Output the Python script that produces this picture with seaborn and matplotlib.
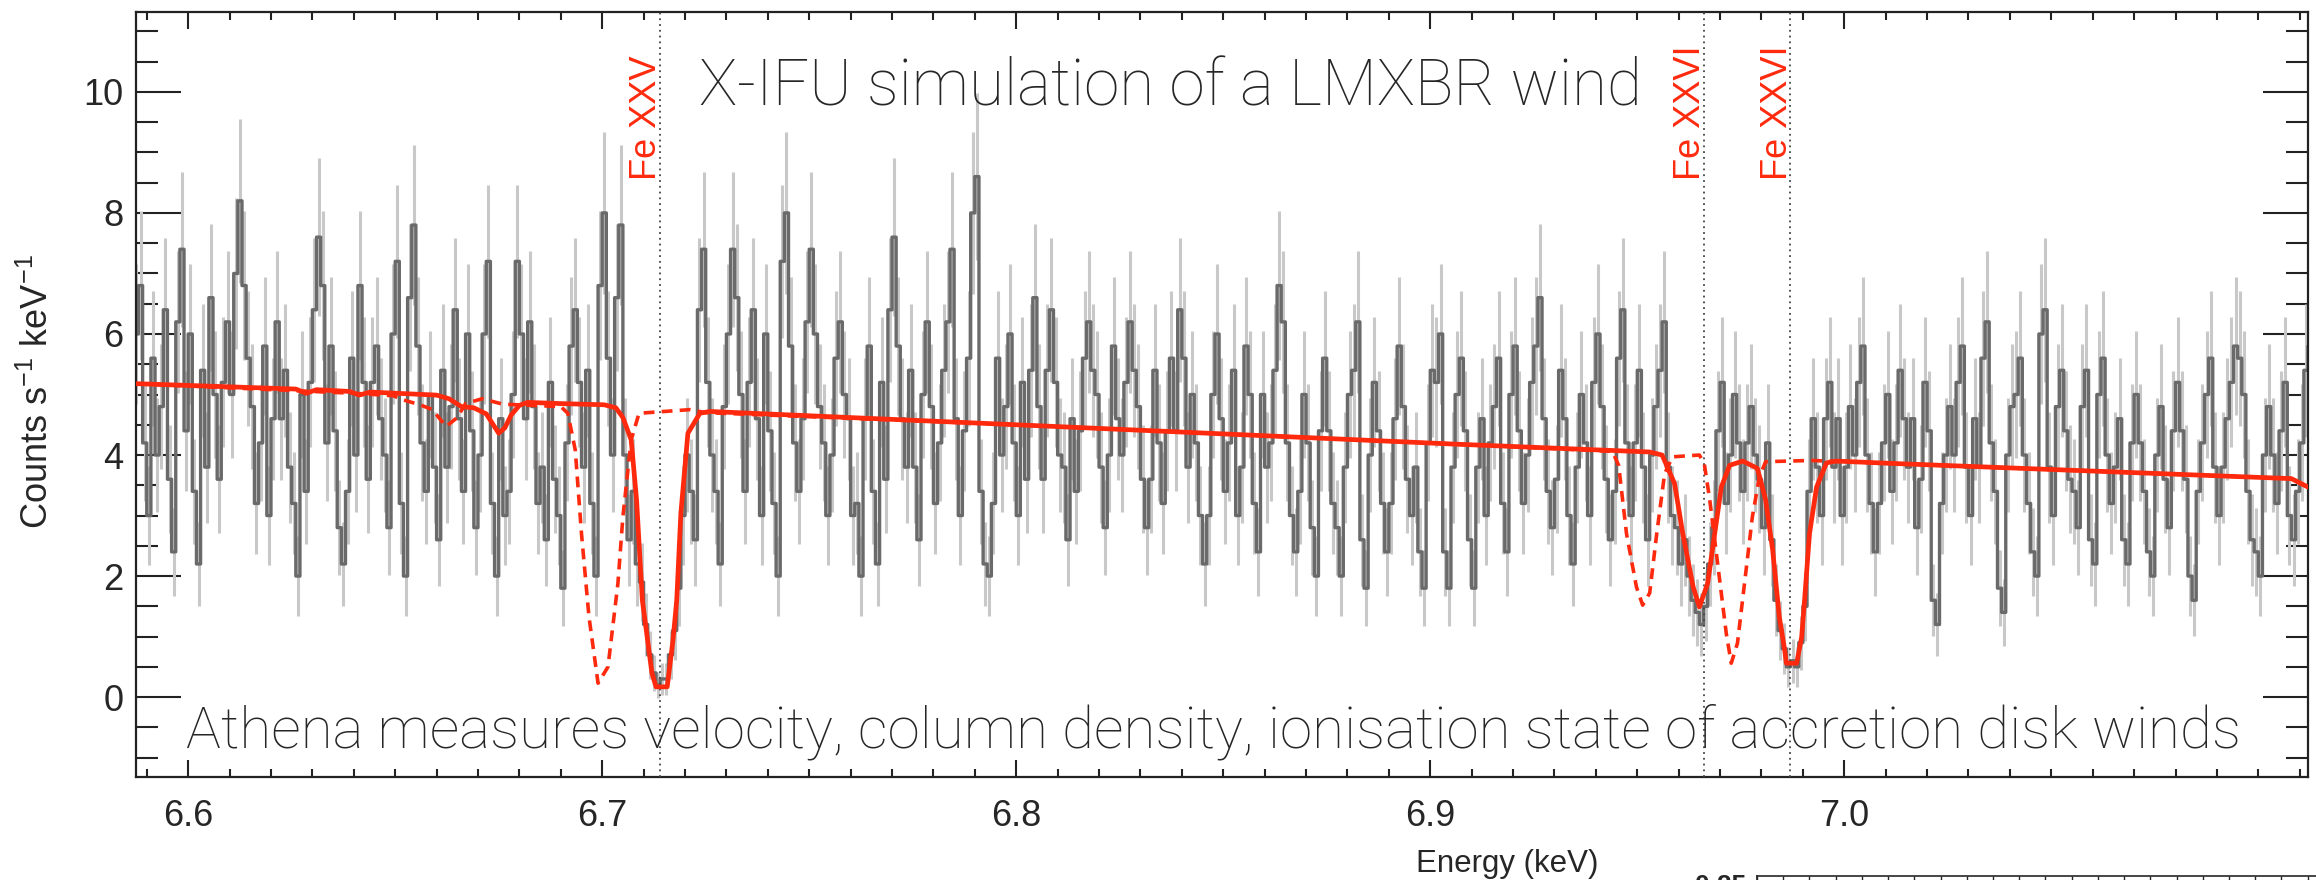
import numpy as np
import matplotlib
matplotlib.use("Agg")
import matplotlib.pyplot as plt
import seaborn as sns
from matplotlib.ticker import MultipleLocator

# ---------------- data ----------------
bin_start = 6.5875         # centre of first 1 eV bin (keV)
bin_width = 0.001          # keV
counts = [
    6.0, 6.8, 4.2, 3.0, 5.6, 4.0, 4.8, 6.4, 3.6, 2.4, 6.2, 7.4, 4.4, 6.0, 3.4, 2.2, 5.4, 3.8, 6.6, 5.0,
    3.6, 5.2, 6.2, 5.0, 7.0, 8.2, 6.8, 5.6, 4.8, 3.2, 4.2, 5.8, 3.0, 4.6, 6.2, 4.6, 5.4, 3.8, 3.2, 2.0,
    5.0, 3.4, 5.2, 6.4, 7.6, 6.8, 4.2, 5.8, 4.4, 2.8, 2.2, 3.4, 5.6, 4.0, 6.8, 5.2, 3.6, 5.2, 5.8, 4.6,
    4.0, 2.8, 6.0, 7.2, 3.2, 2.0, 6.6, 7.8, 5.8, 4.2, 3.4, 5.0, 3.8, 2.6, 5.4, 3.8, 4.8, 6.4, 4.6, 3.4,
    6.0, 4.4, 2.8, 4.0, 6.0, 7.2, 3.2, 2.0, 4.6, 3.0, 3.4, 5.0, 7.2, 6.0, 4.6, 6.2, 4.8, 3.2, 3.8, 2.6,
    5.2, 3.6, 3.0, 1.8, 4.2, 5.8, 6.4, 5.2, 3.8, 5.4, 3.2, 2.0, 6.8, 8.0, 5.6, 4.0, 6.6, 7.8, 4.0, 2.6,
    3.4, 2.2, 1.9, 1.2, 0.7, 0.4, 0.2, 0.3, 0.3, 0.7, 1.1, 1.8, 3.0, 4.0, 3.4, 2.6, 6.4, 7.4, 5.2, 4.0,
    3.4, 2.2, 4.8, 6.0, 7.4, 6.6, 5.0, 3.4, 5.2, 6.4, 4.6, 3.0, 6.0, 4.4, 3.2, 2.0, 7.2, 8.0, 5.8, 4.2,
    3.4, 4.6, 6.2, 7.4, 6.0, 4.8, 4.2, 3.0, 4.0, 5.6, 6.2, 5.0, 4.6, 3.0, 3.2, 2.0, 4.6, 5.8, 3.4, 2.2,
    5.2, 3.6, 6.4, 7.6, 5.8, 4.6, 3.8, 5.4, 3.8, 2.6, 5.0, 6.2, 4.8, 3.2, 4.2, 5.4, 6.2, 7.4, 4.6, 3.0,
    4.4, 5.6, 8.0, 8.6, 3.4, 2.2, 2.0, 3.2, 5.6, 4.0, 4.8, 6.0, 4.2, 3.0, 5.2, 3.6, 5.4, 6.6, 4.8, 3.6,
    5.4, 6.4, 5.2, 4.0, 3.8, 2.6, 4.6, 3.4, 4.4, 5.6, 6.2, 5.4, 5.0, 3.8, 2.8, 4.0, 5.8, 4.6, 4.0, 5.2,
    6.2, 5.4, 4.8, 3.6, 2.8, 3.6, 5.4, 4.2, 3.2, 4.4, 5.6, 4.4, 6.4, 5.6, 3.8, 5.0, 4.2, 3.0, 2.2, 3.0,
    5.0, 6.0, 4.6, 3.4, 4.2, 5.4, 3.0, 3.8, 5.8, 5.0, 3.2, 2.4, 5.0, 3.8, 4.2, 5.4, 6.8, 6.2, 4.2, 3.0,
    2.4, 3.4, 5.0, 4.2, 2.8, 2.0, 4.4, 5.6, 4.4, 3.2, 2.8, 2.0, 3.8, 5.0, 5.4, 6.2, 2.6, 1.8, 4.0, 5.2,
    4.4, 3.2, 2.4, 3.2, 4.6, 5.8, 4.8, 3.6, 3.0, 3.8, 2.4, 1.8, 4.2, 5.4, 5.2, 6.0, 2.4, 1.8, 3.8, 5.0,
    5.6, 4.4, 2.6, 1.8, 3.8, 4.6, 3.0, 4.2, 4.8, 5.6, 3.2, 2.4, 5.0, 5.8, 4.4, 3.2, 4.0, 5.2, 5.8, 6.6,
    4.6, 3.4, 2.8, 3.6, 5.4, 4.6, 3.0, 2.2, 3.8, 5.0, 4.2, 3.0, 5.2, 6.0, 4.8, 3.6, 2.6, 3.4, 5.6, 6.4,
    4.2, 3.0, 4.2, 5.4, 3.8, 2.6, 4.0, 4.8, 5.4, 6.2, 3.8, 3.0, 2.8, 2.2, 2.6, 2.0, 1.6, 1.4, 1.2, 1.5,
    2.2, 2.8, 4.4, 5.2, 3.2, 4.0, 5.0, 4.2, 3.4, 4.2, 4.8, 4.0, 3.6, 2.8, 4.2, 2.6, 1.6, 1.1, 0.8, 0.5,
    0.6, 0.5, 0.9, 1.5, 3.4, 4.6, 3.8, 3.0, 4.6, 5.2, 3.8, 4.6, 3.0, 3.8, 4.8, 4.0, 5.2, 5.8, 4.0, 3.2,
    2.4, 3.2, 4.2, 5.0, 3.4, 4.2, 5.4, 4.6, 3.8, 4.6, 2.8, 3.6, 5.2, 4.4, 1.6, 1.2, 3.2, 4.0, 4.8, 4.0,
    5.2, 5.8, 3.8, 3.0, 4.6, 3.8, 5.6, 6.2, 4.2, 3.4, 1.8, 1.4, 4.0, 4.8, 5.0, 5.6, 4.0, 3.2, 2.4, 2.0,
    6.0, 6.4, 3.8, 3.0, 4.8, 5.4, 4.4, 3.6, 3.4, 2.8, 4.8, 5.4, 2.6, 2.2, 5.0, 5.6, 4.0, 3.2, 3.8, 4.6,
    2.6, 2.2, 4.2, 5.0, 4.2, 3.4, 2.4, 2.0, 4.0, 4.8, 3.6, 2.8, 4.4, 5.2, 4.4, 3.6, 2.0, 1.6, 3.4, 4.2,
    5.0, 5.6, 3.8, 3.0, 3.8, 4.6, 5.2, 5.8, 5.6, 5.0, 3.4, 2.6, 2.4, 2.0, 4.0, 4.8, 4.0, 3.2, 4.4, 5.2,
    3.0, 2.6, 3.4, 4.2, 5.4, 5.8,
]
counts_per_unit = 4.5     # Poisson normalisation for the error bars

# best-fit model (blueshifted lines)
model_E = [6.5870, 6.6260, 6.6285, 6.6310, 6.6390, 6.6413, 6.6440, 6.6600, 6.6630,
           6.6660, 6.6690, 6.6720, 6.6735, 6.6750, 6.6765, 6.6780, 6.6800, 6.6820,
           6.6900, 6.7005, 6.7033, 6.7050, 6.7070, 6.7083, 6.7097, 6.7120, 6.7130,
           6.7157, 6.7171, 6.7180, 6.7190, 6.7207, 6.7236, 6.7260, 6.8000, 6.9060,
           6.9530, 6.9560, 6.9590, 6.9610, 6.9635, 6.9650, 6.9670, 6.9687, 6.9703,
           6.9723, 6.9755, 6.9790, 6.9810, 6.9827, 6.9843, 6.9856, 6.9860, 6.9885,
           6.9897, 6.9904, 6.9916, 6.9933, 6.9957, 6.9980, 7.0120, 7.1080, 7.1120]
model_y = [5.18, 5.09, 5.02, 5.08, 5.05, 4.99, 5.04, 4.99, 4.93,
           4.80, 4.78, 4.68, 4.52, 4.36, 4.45, 4.66, 4.82, 4.87,
           4.85, 4.83, 4.78, 4.62, 4.25, 3.26, 1.60, 0.40, 0.17,
           0.17, 0.94, 1.60, 3.04, 4.36, 4.69, 4.72, 4.50, 4.18,
           4.05, 4.00, 3.53, 2.70, 1.82, 1.49, 1.88, 2.70, 3.47,
           3.83, 3.90, 3.78, 3.26, 2.43, 1.33, 0.78, 0.56, 0.56,
           0.99, 1.60, 2.70, 3.47, 3.87, 3.90, 3.86, 3.61, 3.47]

# same model with lines at rest energies (dashed)
rest_E = [6.5870, 6.6400, 6.6495, 6.6520, 6.6560, 6.6590, 6.6623, 6.6650, 6.6670,
          6.6710, 6.6760, 6.6900, 6.6917, 6.6935, 6.6950, 6.6968, 6.6990, 6.7014,
          6.7038, 6.7050, 6.7070, 6.7089, 6.7212, 6.7250, 6.8000, 6.9060, 6.9440,
          6.9455, 6.9474, 6.9498, 6.9513, 6.9530, 6.9547, 6.9566, 6.9585, 6.9650,
          6.9662, 6.9675, 6.9700, 6.9715, 6.9727, 6.9742, 6.9758, 6.9778, 6.9795,
          6.9810, 6.9920, 7.0000, 7.1080, 7.1120]
rest_y = [5.18, 5.02, 4.98, 4.91, 4.83, 4.75, 4.47, 4.62, 4.85,
          4.93, 4.84, 4.80, 4.69, 4.08, 2.70, 1.33, 0.23, 0.50,
          1.88, 2.98, 4.25, 4.69, 4.75, 4.70, 4.50, 4.18, 4.06,
          3.83, 2.70, 1.82, 1.52, 1.72, 2.70, 3.69, 3.97, 4.00,
          3.85, 3.26, 1.88, 1.05, 0.56, 0.89, 1.82, 2.98, 3.64,
          3.89, 3.91, 3.89, 3.61, 3.47]

line_energies = [6.714, 6.966, 6.987]
line_labels = ["Fe XXV", "Fe XXVI", "Fe XXVI"]

x_ticks = [6.6, 6.7, 6.8, 6.9, 7.0]
x_ticklabels = ["6.6", "6.7", "6.8", "6.9", "7.0"]
y_ticks = [0, 2, 4, 6, 8, 10]
y_ticklabels = ["0", "2", "4", "6", "8", "10"]

title_text = "X-IFU simulation of a LMXBR wind"
bottom_text = "Athena measures velocity, column density, ionisation state of accretion disk winds"
x_label = "Energy (keV)"
y_label = "Counts s$^{-1}$ keV$^{-1}$"

# ---------------- styling ----------------
sns.set_style("ticks")
plt.rcParams["font.family"] = ["Liberation Sans", "DejaVu Sans"]
plt.rcParams["mathtext.fontset"] = "custom"
plt.rcParams["mathtext.rm"] = "Liberation Sans"
plt.rcParams["mathtext.it"] = "Liberation Sans"

RED = "#ff2a0e"
DARK = "#6a6a6a"
LIGHT = "#c8c8c8"
W, H = 2316, 880

fig = plt.figure(figsize=(W / 100, H / 100), dpi=100)
ax = fig.add_axes([136 / W, 1 - 777 / H, (2308 - 136) / W, (777 - 12) / H])

energy = bin_start + bin_width * np.arange(len(counts))
vals = np.array(counts)
err = np.sqrt(np.maximum(vals, 0.2) / counts_per_unit)

ax.vlines(energy, vals - err, vals + err, color=LIGHT, lw=2.2, zorder=1)
sns.lineplot(x=energy, y=vals, drawstyle="steps-mid", estimator=None, sort=False,
             color=DARK, lw=2.4, ax=ax, zorder=2)

for e in line_energies:
    ax.axvline(e, color="#444444", lw=1.3, ls=(0, (1, 2.2)), zorder=3)

sns.lineplot(x=rest_E, y=rest_y, estimator=None, sort=False, color=RED, lw=2.6,
             linestyle=(0, (3.0, 2.0)), ax=ax, zorder=4)
sns.lineplot(x=model_E, y=model_y, estimator=None, sort=False, color=RED, lw=3.4,
             ax=ax, zorder=5)

for e, lab in zip(line_energies, line_labels):
    ax.text(e + 0.0010, 8.55, lab, rotation=90, ha="right", va="bottom",
            color=RED, fontsize=26, zorder=6)

ax.set_xlim(6.5874, 7.112)
ax.set_ylim(-1.32, 11.32)
ax.set_xticks(x_ticks)
ax.set_xticklabels(x_ticklabels)
ax.set_yticks(y_ticks)
ax.set_yticklabels(y_ticklabels)
ax.xaxis.set_minor_locator(MultipleLocator(0.01))
ax.yaxis.set_minor_locator(MultipleLocator(0.5))
ax.set_xlabel("")
ax.set_ylabel("")

for s in ax.spines.values():
    s.set_linewidth(1.6)
    s.set_color("#222222")
ax.tick_params(axis="both", which="both", direction="in", top=True, right=True,
               width=1.5, color="#222222", labelsize=26)
ax.tick_params(axis="y", which="major", length=32.4, pad=9)
ax.tick_params(axis="y", which="minor", length=16)
ax.tick_params(axis="x", which="major", length=12.5, pad=16)
ax.tick_params(axis="x", which="minor", length=6)

fig.text(1507 / W, 1 - 864 / H, x_label, ha="center", va="center", fontsize=22.5)
fig.text(38 / W, 1 - 392 / H, y_label, ha="center", va="center", rotation=90, fontsize=26)

fig.text(699 / W, 1 - 105 / H, title_text, ha="left", va="baseline", fontsize=46,
         family=["Roboto", "DejaVu Sans"], weight="light", zorder=10)
fig.text(186 / W, 1 - 747 / H, bottom_text, ha="left", va="baseline", fontsize=42,
         family=["Roboto", "DejaVu Sans"], weight="light", zorder=10)

# clipped top edge of the panel below (visible at the very bottom right)
ax2 = fig.add_axes([1757 / W, -0.05, (W - 1757) / W + 0.01, 0.05 + 4 / H])
ax2.set_xlim(0, 22.2)
ax2.set_ylim(0, 1)
ax2.xaxis.set_major_locator(MultipleLocator(1))
ax2.set_yticks([])
ax2.tick_params(axis="x", which="both", direction="in", top=True, bottom=False,
                labeltop=False, labelbottom=False, length=5, width=1.0)
for s in ax2.spines.values():
    s.set_linewidth(1.2)
fig.text(1746 / W, 6 / H, "0.25", ha="right", va="top", fontsize=19, weight="bold")

fig.savefig("out.png", dpi=100)
